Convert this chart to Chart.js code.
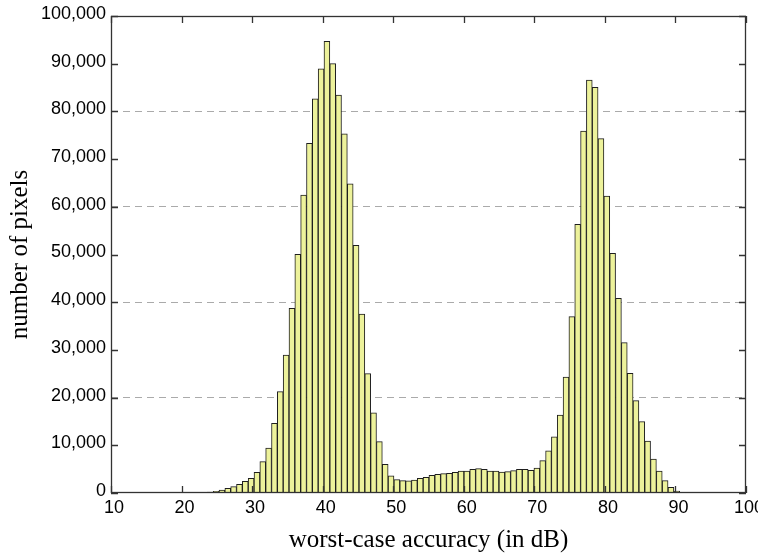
<!DOCTYPE html>
<html>
<head>
<meta charset="utf-8">
<script src="https://cdn.jsdelivr.net/npm/chart.js@4"></script>
<style>
  body { margin: 0; background: #fff; }
</style>
</head>
<body>
<canvas id="myChart" width="758" height="558"></canvas>
<script>
// histogram bins (in dB)
const binStart = 16.22;
const binWidth = 0.8265;

// number of pixels per bin
const counts = [
  5, 10, 15, 20, 30, 40, 50, 70, 100, 200,
  350, 630, 980, 1330, 1820, 2450, 3070, 4330, 6570, 9430,
  14610, 21240, 28930, 38720, 50040, 62470, 73300, 82660, 88900, 94700,
  90000, 83400, 75300, 64800, 51930, 37530, 25010, 16800, 10760, 6000,
  3600, 2800, 2580, 2560, 2730, 3070, 3280, 3700, 3910, 4050,
  4120, 4330, 4610, 4610, 4960, 5100, 4960, 4610, 4610, 4400,
  4470, 4680, 4960, 4960, 4750, 5240, 6780, 8850, 11800, 16350,
  24320, 36970, 56330, 75890, 86580, 85050, 74280, 62260, 50250, 40810,
  31510, 25090, 19350, 14950, 10900, 7130, 4610, 2580, 1190, 420,
  80, 30, 10
];

const xTicks = [10, 20, 30, 40, 50, 60, 70, 80, 90, 100];
const yTicks = [0, 10000, 20000, 30000, 40000, 50000, 60000, 70000, 80000, 90000, 100000];
const gridValues = [20000, 40000, 60000, 80000];

const binCenters = counts.map((c, i) => binStart + binWidth * (i + 0.5));
const points = counts.map((c, i) => ({ x: binCenters[i], y: c }));

// box round the plot with inward tick marks (matlab style)
const frame = {
  id: 'frame',
  afterDatasetsDraw(chart) {
    const { ctx, chartArea: a, scales: { x, y } } = chart;
    ctx.save();
    ctx.strokeStyle = '#333';
    ctx.lineWidth = 1.3;
    ctx.beginPath();
    xTicks.forEach(v => {
      const px = Math.round(x.getPixelForValue(v)) + 0.5;
      ctx.moveTo(px, a.bottom); ctx.lineTo(px, a.bottom - 7);
      ctx.moveTo(px, a.top); ctx.lineTo(px, a.top + 7);
    });
    yTicks.forEach(v => {
      const py = Math.round(y.getPixelForValue(v)) + 0.5;
      ctx.moveTo(a.left, py); ctx.lineTo(a.left + 7, py);
      ctx.moveTo(a.right, py); ctx.lineTo(a.right - 7, py);
    });
    ctx.stroke();
    ctx.strokeRect(a.left + 0.5, a.top + 0.5, a.right - a.left - 1, a.bottom - a.top - 1);
    ctx.restore();
  }
};

const ctx = document.getElementById('myChart');

new Chart(ctx, {
  type: 'bar',
  data: {
    datasets: [{
      label: 'number of pixels',
      data: points,
      backgroundColor: '#EDF29B',
      borderColor: '#1e1e1e',
      borderWidth: { left: 1, right: 1, top: 1, bottom: 0 },
      borderSkipped: false,
      barPercentage: 1,
      categoryPercentage: 1
    }]
  },
  options: {
    responsive: false,
    animation: false,
    layout: {
      padding: { left: 0, top: 16, right: 12, bottom: 0 }
    },
    scales: {
      x: {
        type: 'linear',
        min: 10,
        max: 100,
        offset: false,
        grid: { display: false, drawTicks: false },
        border: { display: false },
        ticks: {
          stepSize: 10,
          autoSkip: false,
          maxRotation: 0,
          padding: 4,
          labelOffset: 3,
          color: '#000',
          font: { family: 'Liberation Sans', size: 18 }
        },
        title: {
          display: true,
          text: 'worst-case accuracy (in dB)',
          color: '#000',
          padding: { top: 0, bottom: 3 },
          font: { family: 'Liberation Serif', size: 25 }
        },
        afterFit(scale) {
          scale.height = 65;
          scale.paddingLeft = 0;
          scale.paddingRight = 0;
        }
      },
      y: {
        min: 0,
        max: 100000,
        grid: {
          drawTicks: false,
          tickLength: 0,
          lineWidth: 1,
          color: c => gridValues.includes(c.tick.value) ? '#aaaaaa' : 'rgba(0,0,0,0)'
        },
        border: { display: false, dash: [7, 5] },
        ticks: {
          stepSize: 10000,
          padding: 5,
          labelOffset: -2,
          color: '#000',
          font: { family: 'Liberation Sans', size: 18 },
          callback: v => v.toLocaleString('en-US')
        },
        title: {
          display: true,
          text: 'number of pixels',
          color: '#000',
          padding: { top: 5, bottom: 0 },
          font: { family: 'Liberation Serif', size: 25 }
        },
        afterFit(scale) {
          scale.width = 111;
          scale.paddingTop = 0;
          scale.paddingBottom = 0;
        }
      }
    },
    plugins: {
      legend: { display: false },
      tooltip: { enabled: false }
    }
  },
  plugins: [frame]
});
</script>
</body>
</html>
